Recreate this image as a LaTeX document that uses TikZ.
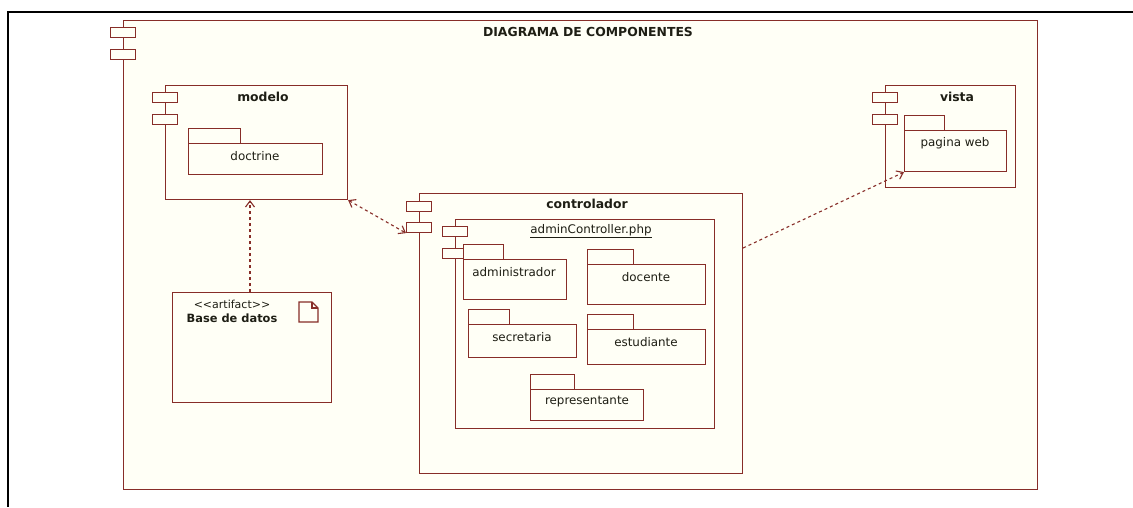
\documentclass[tikz,border=0pt]{standalone}
\usepackage{fontspec}
\setmainfont{DejaVu Sans}
\usetikzlibrary{arrows.meta,calc}
\definecolor{frm}{RGB}{135,45,40}
\definecolor{bg}{RGB}{255,255,246}
\definecolor{ink}{RGB}{30,30,20}
\begin{document}
\begin{tikzpicture}[x=1pt,y=-1pt,
  comp/.style={draw=frm, fill=bg, line width=1.1pt, inner sep=0pt, anchor=north west, rectangle},
  port/.style={comp, minimum width=25pt, minimum height=10pt},
  pkgtab/.style={comp, minimum height=15pt},
  lbl/.style={inner sep=0pt, text=ink, font=\fontsize{11.9}{13}\selectfont},
  ttl/.style={inner sep=0pt, text=ink, font=\fontsize{12.4}{14}\selectfont\bfseries},
  dep/.style={draw=frm, line width=1.1pt, dash pattern=on 3pt off 3pt},
  opentip/.style={-{Straight Barb[length=6pt,width=9pt]}}]
\useasboundingbox (0,0) rectangle (1133,507);
\fill[white] (0,0) rectangle (1133,507);
% table cell borders
\draw[black, line width=2pt] (7,12) -- (105,12);
\draw[black, line width=1.2pt] (105,12) -- (1043,12);
\draw[black, line width=2pt] (1043,12) -- (1133,12);
\draw[black, line width=1.5pt] (8,11) -- (8,507);

% outer component
\node[comp, minimum width=914pt, minimum height=469pt] (outer) at (123,20) {};
\node[port] (op1) at (110,27) {};
\node[port] (op2) at (110,49) {};
\node[ttl] (outerT) at (588,32) {DIAGRAMA DE COMPONENTES};

% modelo
\node[comp, minimum width=182pt, minimum height=114pt] (modelo) at (165,85) {};
\node[port] (mp1) at (152,92) {};
\node[port] (mp2) at (152,114) {};
\node[ttl] (modeloT) at (263,97) {modelo};
\node[pkgtab, minimum width=52pt] (doctrineTab) at (188,128) {};
\node[comp, minimum width=134pt, minimum height=31pt] (doctrine) at (188,143) {};
\node[lbl] (doctrineT) at (255,156) {doctrine};

% vista
\node[comp, minimum width=130pt, minimum height=102pt] (vista) at (885,85) {};
\node[port] (vp1) at (872,92) {};
\node[port] (vp2) at (872,114) {};
\node[ttl] (vistaT) at (957,97) {vista};
\node[pkgtab, minimum width=40pt] (webTab) at (904,115) {};
\node[comp, minimum width=102pt, minimum height=41pt] (web) at (904,130) {};
\node[lbl] (webT) at (955,143) {pagina web};

% artifact
\node[comp, minimum width=159pt, minimum height=110pt] (db) at (172,292) {};
\node[lbl, font=\fontsize{11}{13}\selectfont] (dbS) at (232,304) {{<}{<}artifact{>}{>}};
\node[ttl, font=\fontsize{11.4}{13}\selectfont\bfseries] (dbT) at (232,318) {Base de datos};
\draw[frm, line width=1.1pt] (299,302) -- (312,302) -- (318,308) -- (318,322) -- (299,322) -- cycle;
\draw[frm, line width=1.1pt] (312,302) -- (312,308) -- (318,308);

% controlador
\node[comp, minimum width=323pt, minimum height=280pt] (ctl) at (419,193) {};
\node[port] (cp1) at (406,201) {};
\node[port] (cp2) at (406,222) {};
\node[ttl] (ctlT) at (587,204) {controlador};

% adminController.php
\node[comp, minimum width=259pt, minimum height=209pt] (adm) at (455,219) {};
\node[port] (ap1) at (442,226) {};
\node[port] (ap2) at (442,248) {};
\node[lbl] (admT) at (591,231) {\underline{adminController.php}};

\node[pkgtab, minimum width=40pt] (p1tab) at (463,244) {};
\node[comp, minimum width=103pt, minimum height=40pt] (p1) at (463,259) {};
\node[lbl] (p1T) at (514,272) {administrador};

\node[pkgtab, minimum width=46pt] (p2tab) at (587,249) {};
\node[comp, minimum width=118pt, minimum height=40pt] (p2) at (587,264) {};
\node[lbl] (p2T) at (646,277) {docente};

\node[pkgtab, minimum width=41pt] (p3tab) at (468,309) {};
\node[comp, minimum width=108pt, minimum height=33pt] (p3) at (468,324) {};
\node[lbl] (p3T) at (522,337) {secretaria};

\node[pkgtab, minimum width=46pt] (p4tab) at (587,314) {};
\node[comp, minimum width=118pt, minimum height=35pt] (p4) at (587,329) {};
\node[lbl] (p4T) at (646,342) {estudiante};

\node[pkgtab, minimum width=44pt] (p5tab) at (530,374) {};
\node[comp, minimum width=113pt, minimum height=31pt] (p5) at (530,389) {};
\node[lbl] (p5T) at (587,402) {representante};

% dependencies
\draw[dep, opentip] (db.north -| 250,0) -- (modelo.south -| 250,0);
\draw[dep, {Straight Barb[length=6pt,width=9pt]}-{Straight Barb[length=6pt,width=9pt]}] (modelo.south east) -- (cp2.south west);
\coordinate (ctlout) at ($(ctl.north east)+(0,55)$);
\draw[dep, opentip] (ctlout) -- (web.south west);
\end{tikzpicture}
\end{document}
